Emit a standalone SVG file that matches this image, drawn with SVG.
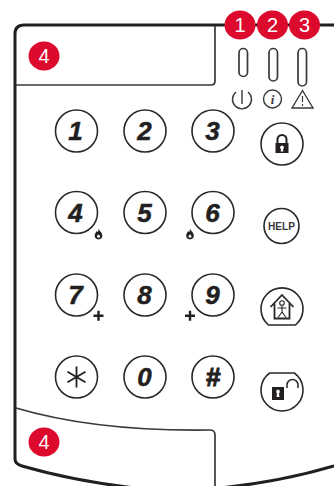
<svg xmlns="http://www.w3.org/2000/svg" width="334" height="486" viewBox="0 0 334 486">
<style>
.frame{fill:none;stroke:#231f20;stroke-width:3;stroke-linejoin:round}
.thin{fill:none;stroke:#3a3839;stroke-width:1.700}
.key{fill:#fff;stroke:#2a2829;stroke-width:1.600}
.num{font-family:"Liberation Sans",Arial,sans-serif;font-size:26px;font-weight:bold;font-style:italic;fill:#231f20;stroke:#231f20;stroke-width:.5;text-anchor:middle}
.bt{fill:#dc0a2c}
.bn{font-family:"Liberation Sans",Arial,sans-serif;font-size:20px;fill:#fff;text-anchor:middle}
.ic{fill:none;stroke:#3a3839;stroke-width:1.400}
</style>
<defs>
<path id="flame" d="M0-6.500C.6-4 3.800-2.800 3.800.6A3.800 3.800 0 0 1-3.800.6C-3.800-1.500-2.400-2.500-2-4C-1.400-3.300-1-3-.6-3C-.1-4-.2-5.500 0-6.500ZM0-.6C-1.100 0-1.500.7-1.500 1.300A1.500 1.500 0 0 0 1.500 1.300C1.500.7 1.100 0 0-.6Z" fill="#231f20" fill-rule="evenodd"/>
<path id="plus" d="M-1.200-5H1.200V-1.200H5V1.200H1.200V5H-1.200V1.200H-5V-1.200H-1.200Z" fill="#231f20"/>
</defs>
<g id="housing">
<path class="frame" d="M334 25H24Q15 25 15 34V459Q15 464 22 466C60 477 100 484 135 488M220 488C260 484 300 476 334 466"/>
</g>
<g id="connectors"></g>
<g id="display-top"><path class="thin" d="M215 26V81Q215 85 211 85H16"/></g>
<g id="display-bottom"><path class="thin" d="M16 408C70 424 140 431 210 430Q215 430 215 435V486"/></g>
<g id="led-power"><rect class="thin" x="239" y="48.500" width="8.500" height="28" rx="4.200"/></g>
<g id="led-info"><rect class="thin" x="269" y="48.500" width="8.500" height="32.500" rx="4.200"/></g>
<g id="led-alert"><rect class="thin" x="298" y="48.500" width="8.500" height="37.500" rx="4.200"/></g>
<g id="icon-power"><path class="ic" d="M236 92A9.500 9.500 0 1 0 248 92M242 90V104"/></g>
<g id="icon-info"><circle class="ic" cx="272.500" cy="99" r="9"/><text x="272.500" y="103.500" font-family="Liberation Serif,serif" font-size="13" font-style="italic" font-weight="bold" fill="#3a3839" text-anchor="middle">i</text></g>
<g id="icon-alert"><path class="ic" d="M302.500 90.500L313 108H292Z"/><path d="M302.500 96V102M302.500 104V106" stroke="#3a3839" stroke-width="1.200"/></g>
<g id="key-1"><circle class="key" cx="76.500" cy="131" r="21"/><text class="num" x="75.500" y="140">1</text></g>
<g id="key-2"><circle class="key" cx="145" cy="131" r="21"/><text class="num" x="144.500" y="140">2</text></g>
<g id="key-3"><circle class="key" cx="213" cy="131" r="21"/><text class="num" x="212.500" y="140">3</text></g>
<g id="key-4"><circle class="key" cx="76.500" cy="212.500" r="21"/><text class="num" x="75.500" y="221.500">4</text><use href="#flame" x="98.500" y="235"/></g>
<g id="key-5"><circle class="key" cx="145" cy="212.500" r="21"/><text class="num" x="144.500" y="221.500">5</text></g>
<g id="key-6"><circle class="key" cx="213" cy="212.500" r="21"/><text class="num" x="212.500" y="221.500">6</text><use href="#flame" x="190" y="235"/></g>
<g id="key-7"><circle class="key" cx="76.500" cy="295" r="21"/><text class="num" x="75.500" y="304">7</text><use href="#plus" x="98.500" y="315.700"/></g>
<g id="key-8"><circle class="key" cx="145" cy="295" r="21"/><text class="num" x="144.500" y="304">8</text></g>
<g id="key-9"><circle class="key" cx="213" cy="295" r="21"/><text class="num" x="212.500" y="304">9</text><use href="#plus" x="190" y="315.700"/></g>
<g id="key-star"><circle class="key" cx="76.500" cy="377" r="21"/><path d="M76.500 366.500V387.500M67.500 371.700L85.500 382.300M67.500 382.300L85.500 371.700" stroke="#231f20" stroke-width="1.800" fill="none"/></g>
<g id="key-0"><circle class="key" cx="145" cy="377" r="21"/><text class="num" x="144.500" y="386">0</text></g>
<g id="key-hash"><circle class="key" cx="213" cy="377" r="21"/><text class="num" x="213" y="386" style="stroke-width:1">#</text></g>
<g id="key-lock"><circle class="key" cx="282" cy="144" r="21"/><path d="M277.500 143V139.500A4.500 4.500 0 0 1 286.500 139.500V143" fill="none" stroke="#231f20" stroke-width="2"/><path d="M275.500 143H288.500V153H275.500ZM282 145.500A2 2 0 0 0 281 149.200L280.600 151.500H283.400L283 149.200A2 2 0 0 0 282 145.500Z" fill="#231f20" fill-rule="evenodd"/></g>
<g id="key-help"><circle class="key" cx="281.500" cy="226" r="17.500"/><text x="281.500" y="230" font-family="Liberation Sans,sans-serif" font-size="11.500" font-weight="bold" fill="#3a3839" text-anchor="middle" textLength="27" lengthAdjust="spacingAndGlyphs">HELP</text></g>
<g id="key-home"><path class="key" d="M268.500 325A21 21 0 1 1 295.500 325Z"/><path d="M270.500 307L282 295L293.500 307M274.500 302.500V318.500H289.500V302.500" fill="none" stroke="#2a2829" stroke-width="1.800"/><circle cx="282" cy="303" r="2.300" fill="none" stroke="#2a2829" stroke-width="1.100"/><path d="M282 305.500V312M277.500 308H286.500M282 312L278 317.500M282 312L286 317.500" fill="none" stroke="#2a2829" stroke-width="1.100"/></g>
<g id="key-unlock"><path class="key" d="M269.700 373H294.300A21 21 0 1 1 269.700 373Z"/><path d="M272 387H284V400H272ZM278 389.500A2.200 2.200 0 0 0 277 393.400L276.500 397H279.500L279 393.400A2.200 2.200 0 0 0 278 389.500Z" fill="#231f20" fill-rule="evenodd"/><path d="M287 388V385A5.500 5.500 0 0 1 298 385V388" fill="none" stroke="#2a2829" stroke-width="1.500"/></g>
<g id="badge-1"><ellipse class="bt" cx="240" cy="25" rx="15.500" ry="14.500"/><text class="bn" x="240" y="32">1</text></g>
<g id="badge-2"><ellipse class="bt" cx="272.500" cy="25" rx="15.500" ry="14.500"/><text class="bn" x="272.500" y="32">2</text></g>
<g id="badge-3"><ellipse class="bt" cx="304.500" cy="25" rx="15.500" ry="14.500"/><text class="bn" x="304.500" y="32">3</text></g>
<g id="badge-4-top"><ellipse class="bt" cx="44" cy="56" rx="15.500" ry="14.500"/><text class="bn" x="44" y="63">4</text></g>
<g id="badge-4-bottom"><ellipse class="bt" cx="44" cy="442" rx="15.500" ry="14.500"/><text class="bn" x="44" y="449">4</text></g>
</svg>
